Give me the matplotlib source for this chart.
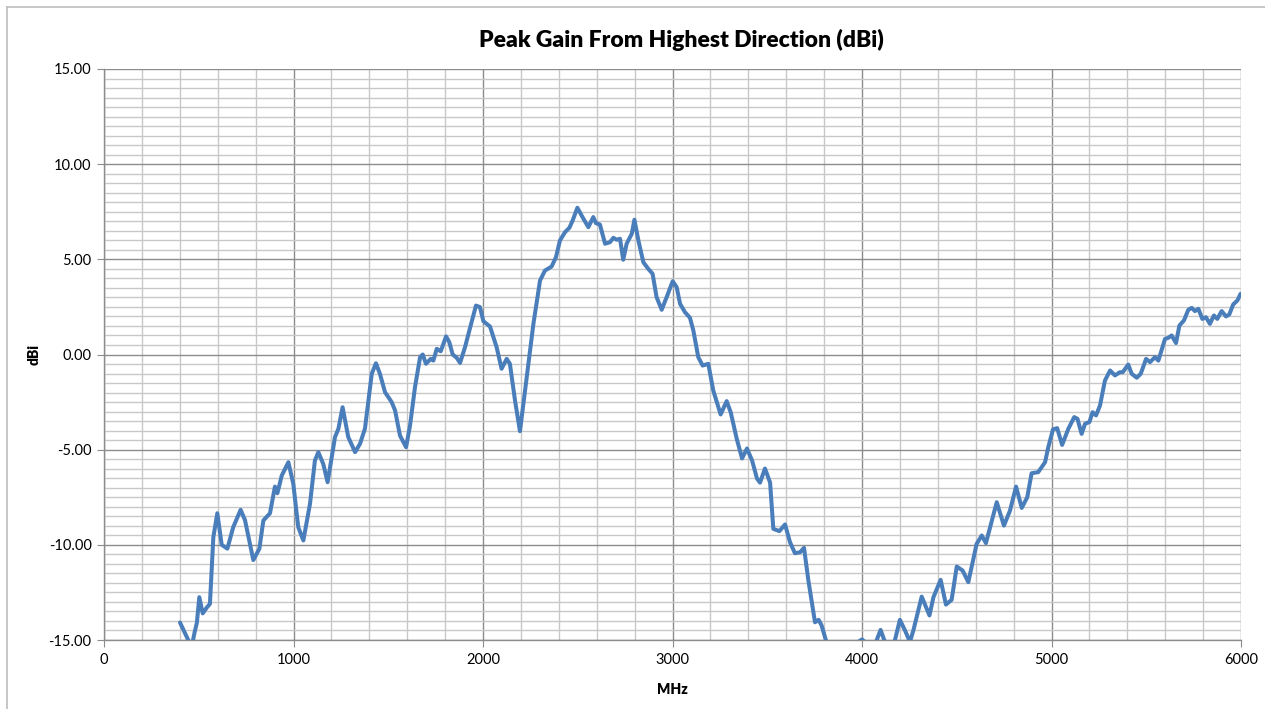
import numpy as np
import matplotlib
matplotlib.use("Agg")
import matplotlib.pyplot as plt
from matplotlib.ticker import MultipleLocator, FormatStrFormatter
from matplotlib.lines import Line2D

plt.rcParams['font.family'] = ['Lato', 'DejaVu Sans']

# frequency (MHz) and peak gain (dBi)
freq = [401, 430, 449, 462, 478, 490, 503, 521, 542, 559, 577, 598, 621, 651, 682, 721,
        744, 788, 820, 841, 876, 902, 915, 938, 973, 999, 1025, 1052, 1087, 1113, 1131,
        1157, 1180, 1219, 1237, 1259, 1289, 1325, 1351, 1377, 1413, 1435, 1456, 1483,
        1518, 1536, 1562, 1594, 1615, 1641, 1668, 1682, 1699, 1724, 1738, 1756, 1777,
        1805, 1822, 1840, 1861, 1879, 1905, 1928, 1963, 1984, 2002, 2037, 2072, 2098,
        2125, 2142, 2169, 2195, 2222, 2266, 2301, 2327, 2362, 2385, 2406, 2433, 2456,
        2473, 2498, 2530, 2556, 2582, 2596, 2617, 2644, 2670, 2688, 2705, 2723, 2740,
        2758, 2785, 2799, 2820, 2846, 2872, 2895, 2916, 2943, 2969, 3001, 3022, 3040,
        3066, 3092, 3110, 3136, 3159, 3189, 3215, 3254, 3286, 3307, 3339, 3367, 3393,
        3420, 3446, 3462, 3488, 3515, 3532, 3564, 3594, 3620, 3646, 3673, 3694, 3717,
        3734, 3752, 3771, 3787, 3810, 3850, 3900, 3950, 3980, 4000, 4015, 4040, 4074,
        4098, 4121, 4150, 4174, 4200, 4227, 4253, 4271, 4315, 4356, 4377, 4415, 4443,
        4473, 4500, 4531, 4561, 4605, 4632, 4654, 4711, 4749, 4781, 4813, 4843, 4872,
        4895, 4930, 4966, 4983, 5008, 5030, 5056, 5089, 5120, 5137, 5159, 5177, 5200,
        5217, 5235, 5256, 5282, 5309, 5335, 5361, 5376, 5405, 5423, 5450, 5471, 5499,
        5520, 5546, 5564, 5576, 5599, 5617, 5634, 5657, 5675, 5699, 5722, 5740, 5757,
        5775, 5796, 5815, 5836, 5857, 5875, 5898, 5921, 5938, 5959, 5981, 5998]
gain = [-14.08, -14.7, -15.1, -15.4, -14.6, -14.1, -12.75, -13.6, -13.3, -13.1, -9.6, -8.34,
        -10.0, -10.2, -9.07, -8.16, -8.7, -10.8, -10.2, -8.72, -8.34, -6.94, -7.29, -6.36,
        -5.66, -6.8, -9.07, -9.77, -7.85, -5.57, -5.13, -5.75, -6.71, -4.34, -3.9, -2.77,
        -4.34, -5.13, -4.69, -3.9, -1.01, -0.46, -1.01, -1.98, -2.5, -2.94, -4.26, -4.87,
        -3.73, -1.72, -0.14, 0.0, -0.49, -0.23, -0.32, 0.3, 0.17, 0.95, 0.65, 0.0, -0.17,
        -0.44, 0.38, 1.26, 2.57, 2.49, 1.75, 1.47, 0.38, -0.75, -0.23, -0.49, -2.42, -4.03,
        -1.89, 1.61, 3.89, 4.41, 4.62, 5.11, 5.99, 6.43, 6.66, 7.04, 7.71, 7.13, 6.69, 7.22,
        6.9, 6.83, 5.82, 5.9, 6.13, 6.03, 6.08, 4.98, 5.82, 6.34, 7.08, 5.99, 4.85, 4.5,
        4.24, 3.01, 2.35, 3.01, 3.85, 3.54, 2.66, 2.22, 1.93, 1.26, -0.14, -0.58, -0.49,
        -1.89, -3.15, -2.45, -3.03, -4.43, -5.46, -4.94, -5.57, -6.52, -6.73, -5.99, -6.73,
        -9.16, -9.28, -8.93, -9.86, -10.44, -10.39, -10.16, -11.87, -12.93, -14.07, -13.94,
        -14.24, -15.03, -16.0, -16.5, -15.8, -15.1, -14.97, -15.1, -15.6, -15.1, -14.47,
        -15.1, -15.6, -15.0, -13.94, -14.5, -15.1, -14.5, -12.72, -13.71, -12.75, -11.84,
        -13.14, -12.89, -11.14, -11.35, -11.96, -9.95, -9.51, -9.91, -7.76, -8.99, -8.2,
        -6.94, -8.06, -7.5, -6.24, -6.18, -5.66, -4.87, -3.93, -3.87, -4.75, -3.9, -3.29,
        -3.38, -4.17, -3.64, -3.55, -3.03, -3.2, -2.68, -1.37, -0.84, -1.1, -0.93, -0.93,
        -0.53, -1.01, -1.22, -1.01, -0.23, -0.4, -0.14, -0.32, 0.07, 0.82, 0.88, 1.0, 0.6,
        1.52, 1.79, 2.35, 2.45, 2.28, 2.4, 1.87, 1.96, 1.61, 2.05, 1.87, 2.28, 2.0, 2.1,
        2.63, 2.84, 3.19]

major_grid = '#8c8c8c'
minor_grid = '#c8c8c8'

fig = plt.figure(figsize=(12.65, 7.09), dpi=100)
ax = fig.add_axes([104 / 1265, 1 - 640 / 709, 1137 / 1265, 571 / 709])

ax.plot(freq, gain, color='#4a7ebb', linewidth=2.9, solid_joinstyle='round',
        solid_capstyle='round', zorder=3)

ax.set_xlim(0, 6000)
ax.set_ylim(-15, 15)
ax.xaxis.set_major_locator(MultipleLocator(1000))
ax.xaxis.set_minor_locator(MultipleLocator(200))
ax.yaxis.set_major_locator(MultipleLocator(5))
ax.yaxis.set_minor_locator(MultipleLocator(0.5))
ax.yaxis.set_major_formatter(FormatStrFormatter('%.2f'))

ax.grid(which='major', color=major_grid, linewidth=1.0)
ax.grid(which='minor', color=minor_grid, linewidth=1.0)
ax.set_axisbelow(True)

for side in ['top', 'right']:
    ax.spines[side].set_visible(False)
for side in ['left', 'bottom']:
    ax.spines[side].set_color(major_grid)
    ax.spines[side].set_linewidth(1.0)

ax.tick_params(which='major', direction='out', length=5, color=major_grid,
               labelsize=10.5, pad=4)
ax.tick_params(which='minor', length=0)

ax.set_xlabel('MHz', fontsize=10, fontweight='heavy', labelpad=12)
ax.set_ylabel('dBi', fontsize=10, fontweight='heavy', labelpad=6)

fig.text(681 / 1265, 1 - 40 / 709, 'Peak Gain From Highest Direction (dBi)',
         ha='center', va='center', fontsize=16.5, fontweight='heavy')

# chart area border (partially visible)
fig.add_artist(Line2D([7 / 1265, 1], [1 - 7 / 709, 1 - 7 / 709], color='#bdbdbd', linewidth=1.2))
fig.add_artist(Line2D([7 / 1265, 7 / 1265], [0, 1 - 7 / 709], color='#bdbdbd', linewidth=1.2))

fig.savefig('out.png', dpi=100)
